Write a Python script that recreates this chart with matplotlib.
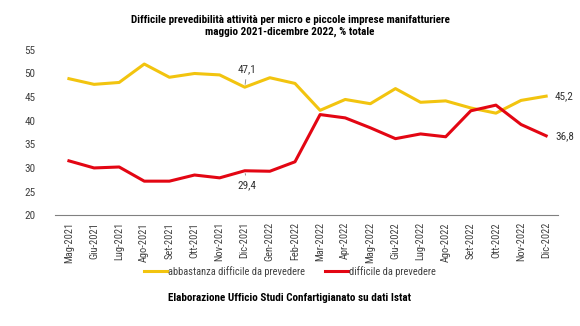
import matplotlib
matplotlib.use('Agg')
import matplotlib.pyplot as plt

plt.rcParams['font.family'] = ['Roboto Condensed', 'DejaVu Sans']

mesi = ['Mag-2021', 'Giu-2021', 'Lug-2021', 'Ago-2021', 'Set-2021', 'Ott-2021',
        'Nov-2021', 'Dic-2021', 'Gen-2022', 'Feb-2022', 'Mar-2022', 'Apr-2022',
        'Mag-2022', 'Giu-2022', 'Lug-2022', 'Ago-2022', 'Set-2022', 'Ott-2022',
        'Nov-2022', 'Dic-2022']
abbastanza = [48.9, 47.7, 48.1, 52.0, 49.2, 50.0, 49.7, 47.1, 49.1, 47.9,
              42.2, 44.5, 43.6, 46.8, 43.9, 44.2, 42.7, 41.6, 44.3, 45.2]
difficile = [31.5, 30.0, 30.2, 27.2, 27.2, 28.5, 27.9, 29.4, 29.3, 31.3,
             41.3, 40.6, 38.5, 36.2, 37.2, 36.6, 42.1, 43.3, 39.2, 36.8]

giallo = '#F2C40F'
rosso = '#E30613'

fig = plt.figure(figsize=(5.8, 3.26), dpi=100)
ax = fig.add_axes([0.095, 0.34, 0.867, 0.507])

x = list(range(len(mesi)))
ax.plot(x, abbastanza, color=giallo, lw=2.2, label='abbastanza difficile da prevedere')
ax.plot(x, difficile, color=rosso, lw=2.2, label='difficile da prevedere')

ax.set_ylim(20, 55)
ax.set_xlim(-0.55, 19.47)
ax.set_yticks(range(20, 56, 5))
ax.set_xticks(x)
ax.set_xticklabels(mesi, rotation=90, fontsize=7.5, color='#404040')
ax.tick_params(axis='y', labelsize=8, colors='#404040', length=0, pad=14)
ax.tick_params(axis='x', length=0, pad=5)
for s in ['top', 'right', 'left']:
    ax.spines[s].set_visible(False)
ax.spines['bottom'].set_color('#808080')

# etichette dei valori
i = 7
ax.annotate('47,1', xy=(i, abbastanza[i]), xytext=(i + 0.1, abbastanza[i] + 3.2),
            fontsize=8, color='#333333', ha='center',
            arrowprops=dict(arrowstyle='-', color='#808080', lw=0.6))
ax.annotate('29,4', xy=(i, difficile[i]), xytext=(i + 0.1, difficile[i] - 3.8),
            fontsize=8, color='#333333', ha='center',
            arrowprops=dict(arrowstyle='-', color='#808080', lw=0.6))
ax.text(19 + 0.35, abbastanza[-1], '45,2', fontsize=8, color='#333333', va='center')
ax.text(19 + 0.35, difficile[-1], '36,8', fontsize=8, color='#333333', va='center')

fig.text(0.5, 0.955, 'Difficile prevedibilità attività per micro e piccole imprese manifatturiere\n'
         'maggio 2021-dicembre 2022, % totale', ha='center', va='top',
         fontsize=8, fontweight='bold', linespacing=1.3)

leg = fig.legend(loc='center', bbox_to_anchor=(0.5, 0.168), ncol=2, frameon=False,
                 fontsize=7.5, handlelength=2.2, columnspacing=2.0, handletextpad=0.1)
for t in leg.get_texts():
    t.set_color('#404040')

fig.text(0.5, 0.085, 'Elaborazione Ufficio Studi Confartigianato su dati Istat',
         ha='center', va='center', fontsize=8, fontweight='bold')

fig.savefig('out.png', dpi=100)
